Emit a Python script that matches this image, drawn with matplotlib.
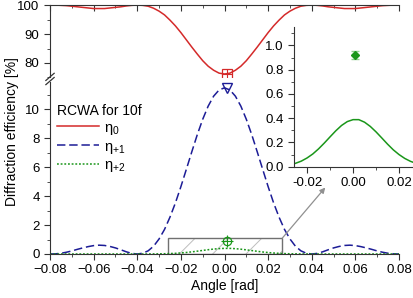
import numpy as np
import matplotlib
matplotlib.use("Agg")
import matplotlib.pyplot as plt
from matplotlib.patches import Rectangle
from matplotlib.lines import Line2D
from matplotlib.ticker import MultipleLocator

plt.rcParams['font.family'] = ['Liberation Sans', 'DejaVu Sans']
plt.rcParams['mathtext.fontset'] = 'custom'
plt.rcParams['mathtext.rm'] = 'Liberation Sans'
plt.rcParams['mathtext.it'] = 'Liberation Sans'
plt.rcParams['hatch.linewidth'] = 0.7

# RCWA simulation, angle in rad (step 0.0025)
angle = np.linspace(-0.08, 0.08, 65)

eta_0 = [100.0, 100.0, 99.9, 99.8, 99.6, 99.4, 99.2, 99.0, 98.8, 98.8, 98.8, 99.0, 99.2,
         99.4, 99.7, 99.9, 100.0, 99.9, 99.6, 98.9, 97.9, 96.6, 94.8, 92.8, 90.5, 88.0,
         85.5, 83.1, 80.8, 78.9, 77.5, 76.5, 76.2, 76.5, 77.5, 78.9, 80.8, 83.1, 85.5,
         88.0, 90.5, 92.8, 94.8, 96.6, 97.9, 98.9, 99.6, 99.9, 100.0, 99.9, 99.7, 99.4,
         99.2, 99.0, 98.8, 98.8, 98.8, 99.0, 99.2, 99.4, 99.6, 99.8, 99.9, 100.0, 100.0]

eta_p1 = [0.00, 0.01, 0.05, 0.12, 0.21, 0.32, 0.42, 0.51, 0.58, 0.61, 0.59, 0.52, 0.42,
          0.29, 0.15, 0.04, 0.00, 0.05, 0.22, 0.54, 1.04, 1.70, 2.55, 3.54, 4.66, 5.86,
          7.07, 8.25, 9.32, 10.23, 10.92, 11.35, 11.50, 11.35, 10.92, 10.23, 9.32, 8.25,
          7.07, 5.86, 4.66, 3.54, 2.55, 1.70, 1.04, 0.54, 0.22, 0.05, 0.00, 0.04, 0.15,
          0.29, 0.42, 0.52, 0.59, 0.61, 0.58, 0.51, 0.42, 0.32, 0.21, 0.12, 0.05, 0.01, 0.00]

eta_p2 = [0.0, 0.0, 0.0, 0.0, 0.0, 0.0, 0.0, 0.0, 0.0, 0.0, 0.0, 0.0, 0.0, 0.0, 0.0, 0.0,
          0.0, 0.0, 0.003, 0.006, 0.010, 0.018, 0.028, 0.046, 0.072, 0.105, 0.147, 0.195,
          0.246, 0.296, 0.340, 0.372, 0.388, 0.388, 0.367, 0.332, 0.287, 0.237, 0.186,
          0.139, 0.100, 0.068, 0.044, 0.027, 0.016, 0.009, 0.005, 0.003, 0.001,
          0.0, 0.0, 0.0, 0.0, 0.0, 0.0, 0.0, 0.0, 0.0, 0.0, 0.0, 0.0, 0.0, 0.0, 0.0, 0.0]

# measured points (x, y, yerr)
exp_x = 0.001
exp_0 = 76.2
exp_p1 = 11.5
exp_p2 = 0.92
exp_p2_err = 0.03

red = '#d42a2a'
navy = '#1c1c96'
green = '#1a961a'
spine = '#333333'

fig = plt.figure(figsize=(4.14, 2.98), dpi=100)
ax_top = fig.add_axes([0.1208, 0.740, 0.843, 0.243])
ax = fig.add_axes([0.1208, 0.1477, 0.843, 0.577])

for a in (ax, ax_top):
    a.set_xlim(-0.08, 0.08)
    a.xaxis.set_major_locator(MultipleLocator(0.02))
    a.xaxis.set_minor_locator(MultipleLocator(0.01))
    a.spines['right'].set_visible(False)
    for s in a.spines.values():
        s.set_color(spine)
    a.tick_params(which='both', colors=spine, labelcolor='black', labelsize=9.5)
    a.tick_params(which='major', length=4)
    a.tick_params(which='minor', length=2.5)
    a.set_facecolor('none')

ax_top.set_ylim(75, 100)
ax_top.yaxis.set_major_locator(MultipleLocator(10))
ax_top.yaxis.set_minor_locator(MultipleLocator(5))
ax_top.spines['bottom'].set_visible(False)
ax_top.tick_params(axis='x', which='both', bottom=False, labelbottom=False,
                   top=True, direction='in')
ax_top.plot(angle, eta_0, color=red, lw=1.1)
ax_top.plot(exp_x, exp_0, 's', ms=6.5, mfc='none', mec=red, mew=0.9)
ax_top.plot(exp_x, exp_0, '+', ms=6.5, mec=red, mew=0.8)

ax.set_ylim(0, 11.9)
ax.yaxis.set_major_locator(MultipleLocator(2))
ax.yaxis.set_minor_locator(MultipleLocator(1))
ax.spines['top'].set_visible(False)
ax.plot(angle, eta_0, color=red, lw=1.1, label=r'$\eta_0$')
ax.plot(angle, eta_p1, color=navy, lw=1.1, dashes=(5.5, 2.5), label=r'$\eta_{+1}$')
ax.plot(angle, eta_p2, color=green, lw=1.1, dashes=(1.2, 1.2), label=r'$\eta_{+2}$')
ax.plot(exp_x, exp_p1, 'v', ms=6.5, mfc='none', mec=navy, mew=1.0)
ax.plot(exp_x, exp_p2, 'o', ms=6, mfc='none', mec=green, mew=0.9)
ax.plot(exp_x, exp_p2, '+', ms=9, mec=green, mew=0.8)

ax.set_xlabel('Angle [rad]', fontsize=10, labelpad=2)
fig.text(0.03, 0.56, 'Diffraction efficiency [%]', rotation=90, fontsize=10,
         ha='center', va='center')

leg = ax.legend(loc='upper left', bbox_to_anchor=(-0.005, 0.925), frameon=False,
                title='RCWA for 10f', title_fontsize=10, fontsize=10.5,
                handlelength=2.9, handletextpad=0.35, labelspacing=0.2,
                borderaxespad=0.2)
leg._legend_box.align = 'left'

# zoom box and arrow
rx0, rx1, ry1 = -0.0258, 0.0265, 1.1
ax.add_patch(Rectangle((rx0, 0), rx1 - rx0, ry1, fill=False, hatch='/',
                       edgecolor='#bdbdbd', lw=0))
ax.add_patch(Rectangle((rx0, 0), rx1 - rx0, ry1, fill=False,
                       edgecolor='#707070', lw=1.0))
ax.annotate('', xy=(0.0462, 4.6), xytext=(rx1, ry1),
            arrowprops=dict(arrowstyle='-|>', color='#909090', lw=0.9,
                            mutation_scale=8, shrinkA=0, shrinkB=0))

# axis break marks
for yb in (0.728, 0.742):
    fig.add_artist(Line2D([0.1108, 0.1308], [yb - 0.012, yb + 0.012],
                          color=spine, lw=0.9))

# inset
ax_in = fig.add_axes([0.710, 0.4406, 0.29, 0.468])
ax_in.set_facecolor('none')
ax_in.plot(angle, eta_p2, color=green, lw=1.1)
ax_in.errorbar(exp_x, exp_p2, yerr=exp_p2_err, fmt='D', ms=4.5, color=green,
               ecolor='#8fd08f', elinewidth=0.8, capsize=3)
ax_in.set_xlim(-0.0257, 0.0265)
ax_in.set_ylim(0, 1.15)
ax_in.xaxis.set_major_locator(MultipleLocator(0.02))
ax_in.xaxis.set_minor_locator(MultipleLocator(0.01))
ax_in.yaxis.set_major_locator(MultipleLocator(0.2))
ax_in.yaxis.set_minor_locator(MultipleLocator(0.1))
ax_in.xaxis.set_major_formatter(plt.FuncFormatter(lambda v, p: f'{v:.2f}'))
ax_in.yaxis.set_major_formatter(plt.FuncFormatter(lambda v, p: f'{v:.1f}'))
for side in ('top', 'right'):
    ax_in.spines[side].set_visible(False)
for s in ax_in.spines.values():
    s.set_color(spine)
ax_in.tick_params(which='both', colors=spine, labelcolor='black', labelsize=9.5)
ax_in.tick_params(which='major', length=4)
ax_in.tick_params(which='minor', length=2.5)

fig.savefig('out.png', dpi=100)
